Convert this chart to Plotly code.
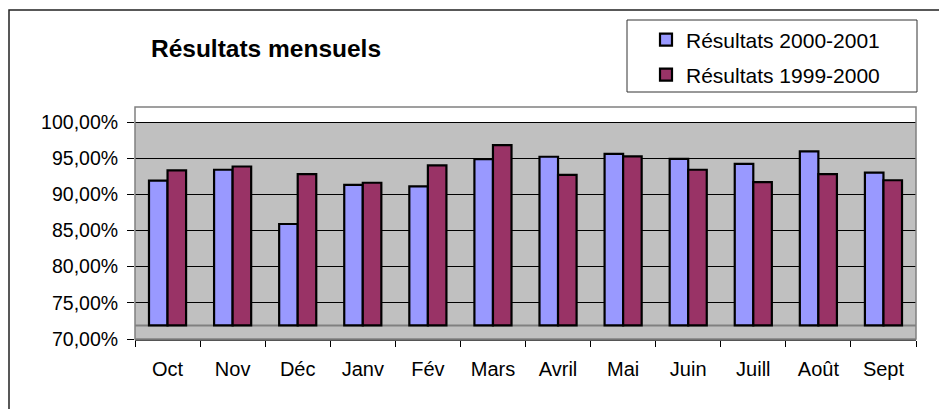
import plotly.graph_objects as go

months = ["Oct", "Nov", "Déc", "Janv", "Fév", "Mars", "Avril", "Mai", "Juin", "Juill", "Août", "Sept"]
res_2000_2001 = [91.9, 93.4, 85.9, 91.3, 91.1, 94.85, 95.2, 95.6, 94.9, 94.2, 95.95, 93.0]
res_1999_2000 = [93.3, 93.85, 92.8, 91.6, 94.0, 96.8, 92.7, 95.25, 93.4, 91.7, 92.8, 91.95]
series_names = ["Résultats 2000-2001", "Résultats 1999-2000"]
y_tickvals = [70, 75, 80, 85, 90, 95, 100]
y_ticktext = ["70,00%", "75,00%", "80,00%", "85,00%", "90,00%", "95,00%", "100,00%"]
floor_value = 71.88
title_text = "Résultats mensuels"

# the page body adds an 8px offset; work in window pixels and compensate
OFF = 8
WIN_W, WIN_H = 947, 409
W, H = WIN_W - OFF, WIN_H - OFF
# plot area in window pixels: left 135, right 916, top 107, bottom 339
PL, PR, PT, PB = 135 - OFF, 916 - OFF, 107 - OFF, 339 - OFF
ML, MR, MT, MB = PL, W - PR, PT, H - PB
PW, PH = PR - PL, PB - PT
FONT = "Liberation Sans, Arial, sans-serif"


def px_x(px):
    return (px - OFF - ML) / PW


def px_y(py):
    return 1 - (py - OFF - MT) / PH


fig = go.Figure()
fig.add_trace(go.Bar(
    x=months, y=[v - floor_value for v in res_2000_2001], base=floor_value,
    name=series_names[0], marker=dict(color="#9999FF", line=dict(color="black", width=2.2)),
    legend="legend",
))
fig.add_trace(go.Bar(
    x=months, y=[v - floor_value for v in res_1999_2000], base=floor_value,
    name=series_names[1], marker=dict(color="#993366", line=dict(color="black", width=2.2)),
    legend="legend2",
))

shapes = [
    dict(type="rect", xref="paper", yref="y", x0=0, x1=1, y0=100, y1=110,
         fillcolor="white", line=dict(width=0), layer="below"),
    dict(type="line", xref="paper", yref="y", x0=0, x1=1, y0=floor_value, y1=floor_value,
         line=dict(color="#808080", width=2), layer="below"),
    dict(type="rect", xref="paper", yref="paper", x0=0, x1=1, y0=0, y1=1,
         line=dict(color="#808080", width=1.5), fillcolor="rgba(0,0,0,0)", layer="above"),
    dict(type="rect", xref="paper", yref="paper", x0=px_x(9), x1=px_x(WIN_W + 20),
         y0=px_y(WIN_H + 20), y1=px_y(10), line=dict(color="#222222", width=1.5),
         fillcolor="rgba(0,0,0,0)", layer="above"),
    dict(type="rect", xref="paper", yref="paper", x0=px_x(627), x1=px_x(917),
         y0=px_y(92), y1=px_y(20), line=dict(color="#333333", width=1),
         fillcolor="white", layer="above"),
]

fig.update_layout(
    width=W, height=H,
    margin=dict(l=ML, r=MR, t=MT, b=MB, pad=0, autoexpand=False),
    paper_bgcolor="white", plot_bgcolor="#C0C0C0",
    font=dict(family=FONT, color="black"),
    barmode="group", bargap=0.43, bargroupgap=0,
    title=dict(text="<b>" + title_text + "</b>", font=dict(size=24.5, family=FONT, color="black"),
               xref="paper", x=px_x(266), xanchor="center",
               yref="container", y=1 - (48 - OFF) / H, yanchor="middle", automargin=False),
    shapes=shapes,
    showlegend=True,
    legend=dict(x=px_x(646), y=px_y(40), xref="paper", yref="paper", xanchor="left", yanchor="middle",
                bgcolor="rgba(0,0,0,0)", borderwidth=0, font=dict(size=21, family=FONT)),
    legend2=dict(x=px_x(646), y=px_y(75), xref="paper", yref="paper", xanchor="left", yanchor="middle",
                 bgcolor="rgba(0,0,0,0)", borderwidth=0, font=dict(size=21, family=FONT)),
    xaxis=dict(type="category", range=[-0.5, 11.5], tickson="boundaries", ticks="outside",
               ticklen=6, tickwidth=1.2, tickcolor="black", showline=True, linecolor="#555555",
               linewidth=1.5, showgrid=False, tickfont=dict(size=20, family=FONT),
               ticklabelstandoff=11, fixedrange=True, automargin=False),
    yaxis=dict(range=[70, 70 + PH / 7.233], tickmode="array", tickvals=y_tickvals, ticktext=y_ticktext,
               ticks="outside", ticklen=7, tickwidth=1.2, tickcolor="black",
               showgrid=True, gridcolor="black", gridwidth=1, zeroline=False,
               showline=False, tickfont=dict(size=19.5, family=FONT), ticklabelstandoff=5,
               fixedrange=True, automargin=False),
)

fig.write_html("out.html")
